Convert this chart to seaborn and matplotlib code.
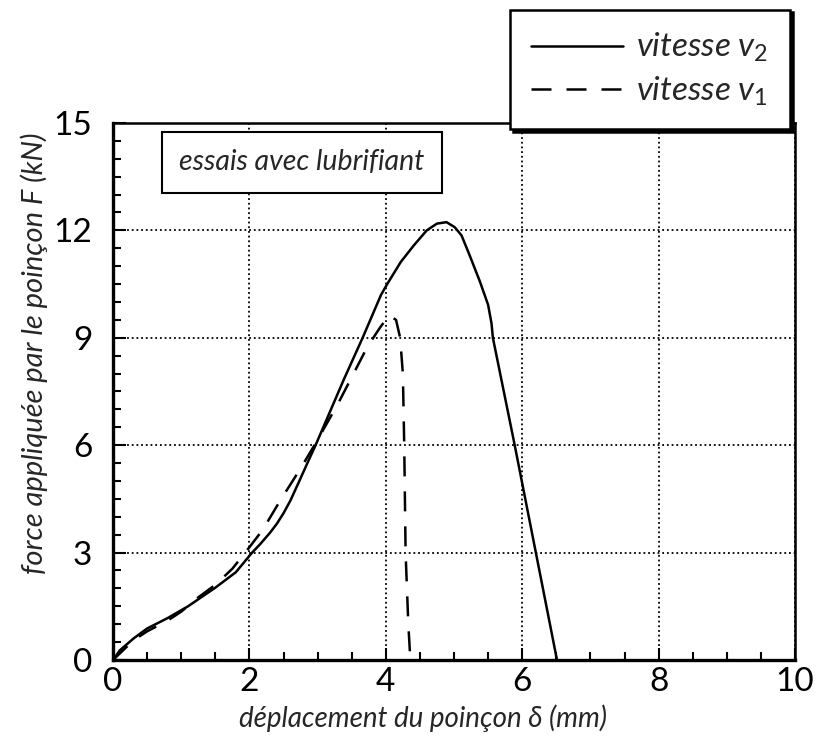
import matplotlib
matplotlib.use("Agg")
import matplotlib.pyplot as plt
import numpy as np
import pandas as pd
import seaborn as sns

# Punch force vs. punch displacement, lubricated tests, two punch speeds
v2_disp = [0.0, 0.1, 0.3, 0.5, 0.8, 1.1, 1.5, 1.8, 2.04, 2.15, 2.3, 2.4, 2.5,
           2.6, 2.72, 2.85, 2.97, 3.39, 3.66, 3.93, 4.02, 4.22, 4.41, 4.6,
           4.75, 4.89, 5.01, 5.11, 5.23, 5.38, 5.5, 5.55, 5.57, 5.89, 6.2,
           6.51]
v2_force = [0.0, 0.27, 0.6, 0.88, 1.17, 1.5, 2.02, 2.45, 3.0, 3.22, 3.55, 3.8,
            4.1, 4.45, 4.95, 5.5, 6.0, 7.86, 9.0, 10.2, 10.5, 11.12, 11.58,
            12.0, 12.19, 12.23, 12.09, 11.86, 11.3, 10.57, 9.92, 9.4, 9.0, 6.0,
            3.0, 0.0]

v1_disp = [0.0, 0.3, 0.5, 0.8, 1.0, 1.25, 1.5, 1.75, 2.0, 2.2, 2.45, 2.75, 3.0,
           3.31, 3.5, 3.73, 3.92, 4.05, 4.15, 4.21, 4.25, 4.27, 4.29, 4.33,
           4.36]
v1_force = [0.0, 0.55, 0.8, 1.1, 1.35, 1.75, 2.1, 2.55, 3.15, 3.65, 4.45, 5.35,
            6.15, 7.2, 7.9, 8.75, 9.3, 9.63, 9.5, 9.0, 8.0, 6.0, 3.0, 1.0, 0.0]

x_ticks = [0, 2, 4, 6, 8, 10]
y_ticks = [0, 3, 6, 9, 12, 15]
label_v2 = "vitesse $v_2$"
label_v1 = "vitesse $v_1$"

sns.set_theme(style="white")
plt.rcParams["font.family"] = ["Lato", "DejaVu Sans"]
plt.rcParams["mathtext.fontset"] = "custom"
plt.rcParams["mathtext.it"] = "Lato:italic"
plt.rcParams["mathtext.rm"] = "Lato"

df = pd.concat([
    pd.DataFrame({"d": v2_disp, "F": v2_force, "série": label_v2}),
    pd.DataFrame({"d": v1_disp, "F": v1_force, "série": label_v1}),
], ignore_index=True)

fig = plt.figure(figsize=(8.19, 7.45), dpi=100)
ax = fig.add_axes([0.138, 0.1141, 0.8327, 0.7208])

sns.lineplot(data=df, x="d", y="F", style="série", hue="série",
             palette={label_v2: "black", label_v1: "black"},
             dashes={label_v2: "", label_v1: (8, 6)},
             sort=False, estimator=None, linewidth=1.8, ax=ax, zorder=3)

ax.set_xlim(0, 10)
ax.set_ylim(0, 15)
ax.set_xticks(x_ticks)
ax.set_yticks(y_ticks)
ax.set_xticks(np.arange(0, 10.01, 0.5), minor=True)
ax.set_yticks(np.arange(0, 15.01, 0.5), minor=True)
ax.tick_params(axis="both", which="both", direction="in", colors="black",
               bottom=True, left=True, top=False, right=False)
ax.tick_params(axis="both", which="major", length=9, width=1.5, labelsize=24)
ax.tick_params(axis="both", which="minor", length=6, width=1.5)
ax.tick_params(axis="x", which="major", pad=5)
ax.tick_params(axis="y", which="major", pad=15)

ax.grid(True, which="major", color="black", linestyle=(0, (1, 1.6)),
        linewidth=1.3, zorder=1)
ax.set_axisbelow(True)

for side in ["left", "bottom"]:
    ax.spines[side].set_linewidth(2.4)
for side in ["top", "right"]:
    ax.spines[side].set_linewidth(1.8)
for s in ax.spines.values():
    s.set_color("black")

ax.set_xlabel("déplacement du poinçon δ (mm)", fontsize=20, style="italic")
ax.xaxis.set_label_coords(0.455, -0.082)
ax.set_ylabel("force appliquée par le poinçon F (kN)", fontsize=21,
              style="italic")
ax.yaxis.set_label_coords(-0.096, 0.572)

ax.text(0.277, 0.927, "essais avec lubrifiant", transform=ax.transAxes,
        fontsize=20.5, style="italic", ha="center", va="center", zorder=4,
        bbox=dict(boxstyle="square,pad=0.62", facecolor="white",
                  edgecolor="black", linewidth=1.5))

handles, labels = ax.get_legend_handles_labels()
order = [labels.index(label_v2), labels.index(label_v1)]
leg = ax.legend([handles[i] for i in order], [labels[i] for i in order],
                loc="upper right", bbox_to_anchor=(0.965, 0.987),
                bbox_transform=fig.transFigure,
                prop={"style": "italic", "size": 24},
                handlelength=2.75, handletextpad=0.4, borderpad=0.65,
                borderaxespad=0, labelspacing=0.3, fancybox=False,
                framealpha=1, edgecolor="black",
                shadow={"color": "black", "alpha": 1})
leg.get_frame().set_linewidth(1.8)
leg.set_zorder(10)

fig.savefig("out.png", dpi=100, facecolor="white")
